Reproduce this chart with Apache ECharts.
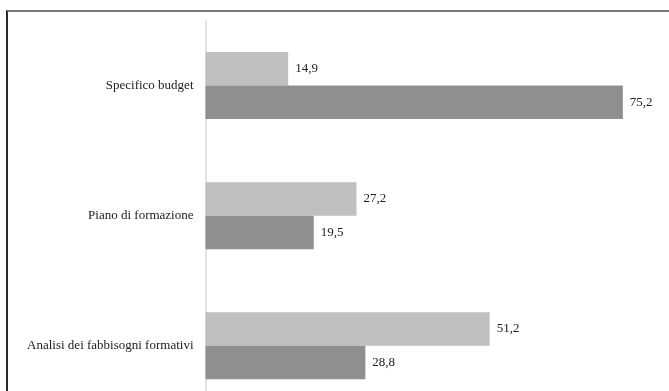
<!DOCTYPE html>
<html>
<head>
<meta charset="utf-8">
<script src="https://cdn.jsdelivr.net/npm/echarts@6/dist/echarts.min.js"></script>
<style>
html,body{margin:0;padding:0;background:#fff;overflow:hidden;width:669px;height:391px;}
#chart{position:absolute;left:0;top:0;width:669px;height:430px;}
#frame{position:absolute;left:6px;top:10px;width:700px;height:440px;border-left:2px solid #2a2a2a;border-top:2px solid #7a7a7a;box-sizing:border-box;pointer-events:none;}
</style>
</head>
<body>
<div id="chart"></div>
<div id="frame"></div>
<script>
const categories = ['Specifico budget', 'Piano di formazione', 'Analisi dei fabbisogni formativi'];
const seriesA = [14.9, 27.2, 51.2];
const seriesB = [75.2, 19.5, 28.8];

const chart = echarts.init(document.getElementById('chart'));
const fmt = p => String(p.value).replace('.', ',');
const labelStyle = {show: true, position: 'right', distance: 7, fontFamily: 'Liberation Serif', fontSize: 13, color: '#222', formatter: fmt};
chart.setOption({
  animation: false,
  grid: {left: 205.5, top: 20.5, width: 444, height: 390.3, containLabel: false},
  xAxis: {type: 'value', min: 0, max: 80, show: false, splitLine: {show: false}},
  yAxis: {
    type: 'category', data: categories, inverse: true,
    axisLine: {show: true, lineStyle: {color: '#e3e3e3', width: 2}},
    axisTick: {show: false},
    axisLabel: {fontFamily: 'Liberation Serif', fontSize: 13, color: '#222', margin: 12}
  },
  series: [
    {type: 'bar', data: seriesA, barWidth: 33.5, barGap: '0%', itemStyle: {color: '#bfbfbf'}, label: labelStyle},
    {type: 'bar', data: seriesB, barWidth: 33.5, barGap: '0%', itemStyle: {color: '#8f8f8f'}, label: labelStyle}
  ]
});
</script>
</body>
</html>
